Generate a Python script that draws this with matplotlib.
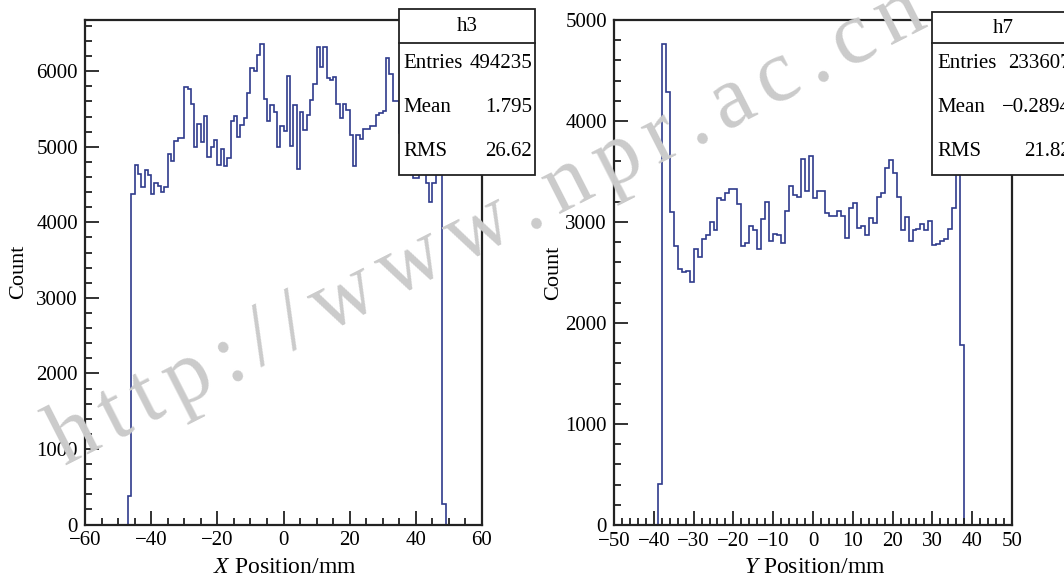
import numpy as np
import matplotlib
matplotlib.use("Agg")
import matplotlib.pyplot as plt
from matplotlib.patches import Rectangle
from matplotlib.lines import Line2D
from matplotlib.ticker import MultipleLocator

plt.rcParams['font.family'] = ['Liberation Serif', 'DejaVu Serif']
plt.rcParams['mathtext.fontset'] = 'custom'
plt.rcParams['mathtext.rm'] = 'Liberation Serif'
plt.rcParams['mathtext.it'] = 'Liberation Serif:italic'

# X histogram (h3): 1 mm bins, first non-empty bin starts at -47
x_first = -47
x_counts = [380,
            4373, 4753, 4642, 4474, 4695, 4629, 4377, 4519, 4483, 4400,
            4466, 4907, 4815, 5079, 5110, 5110, 5786, 5768, 5565, 4991,
            5305, 5057, 5401, 4868, 4991, 5093, 4762, 4970, 4739, 4850,
            5336, 5411, 5128, 5291, 5375, 5711, 6042, 5997, 6219, 6360,
            5636, 5336, 5556, 5460, 5000, 5269, 5203, 5931, 5013, 5547,
            4705, 5460, 5225, 5424, 5623, 5830, 6316, 6056, 6316, 5910,
            5887, 5918, 5565, 5380, 5565, 5490, 5150, 4740, 5150, 5100,
            5230, 5230, 5280, 5280, 5420, 5450, 5480, 6175, 5960, 5600,
            5600, 5180, 5000, 5200, 4900, 4580, 4580, 4900, 4750, 4520,
            4275, 4520, 4800, 4900,
            270]
x_stats = [("Entries", "494235"), ("Mean", "1.795"), ("RMS", "26.62")]

# Y histogram (h7): 1 mm bins, first non-empty bin starts at -39
y_first = -39
y_counts = [406,
            4762, 4290, 3102, 2766, 2532, 2502, 2510, 2403, 2736, 2657,
            2829, 2868, 3003, 2921, 3241, 3221, 3284, 3323, 3330, 3175,
            2762, 2790, 2962, 2924, 2731, 3030, 3201, 2812, 2885, 2870,
            2789, 3105, 3360, 3270, 3243, 3621, 3310, 3653, 3234, 3310,
            3310, 3085, 3059, 3059, 3109, 3059, 2838, 3135, 3185, 2937,
            2960, 2871, 3036, 2987, 3244, 3284, 3538, 3614, 3488, 3251,
            2921, 3052, 2815, 2921, 2928, 2977, 2921, 3010, 2772, 2782,
            2812, 2832, 2928, 3142, 4300,
            1780]
y_stats = [("Entries", "233607"), ("Mean", "\u22120.2894"), ("RMS", "21.82")]

watermark = "http://www.npr.ac.cn"

W, H = 1064, 581
fig = plt.figure(figsize=(W / 100, H / 100), dpi=100)
line_col = '#2f3b8c'


def px(x, y):
    return x / W, 1 - y / H


def full_hist(first, counts, lo, hi):
    edges = np.arange(lo, hi + 1)
    vals = np.zeros(hi - lo)
    i0 = first - lo
    vals[i0:i0 + len(counts)] = counts
    return edges, vals


def style_axes(ax, xmaj, xmin, ymaj, ymin):
    ax.xaxis.set_major_locator(MultipleLocator(xmaj))
    ax.xaxis.set_minor_locator(MultipleLocator(xmin))
    ax.yaxis.set_major_locator(MultipleLocator(ymaj))
    ax.yaxis.set_minor_locator(MultipleLocator(ymin))
    ax.tick_params(which='both', direction='in', top=False, right=False,
                   labelsize=15, width=1.3, color='#222222')
    ax.tick_params(which='major', length=10, pad=5)
    ax.tick_params(which='minor', length=5)
    for s in ax.spines.values():
        s.set_linewidth(1.6)
        s.set_color('#222222')


def stat_box(x0, x1, y0, ydiv, y1, name, rows, xl, xr):
    fx0, fy1 = px(x0, y1)
    fx1, fy0 = px(x1, y0)
    fig.add_artist(Rectangle((fx0, fy1), fx1 - fx0, fy0 - fy1, transform=fig.transFigure,
                             facecolor='white', edgecolor='#222222', lw=1.3, zorder=5))
    a, b = px(x0, ydiv)
    c, d = px(x1, ydiv)
    fig.add_artist(Line2D([a, c], [b, d], transform=fig.transFigure, color='#222222', lw=1.3, zorder=6))
    fig.text(*px((x0 + x1) / 2, (y0 + ydiv) / 2 + 1), name, ha='center', va='center', fontsize=15, zorder=7)
    row_y = [63, 107, 152]
    for (lab, val), yy in zip(rows, row_y):
        fig.text(*px(xl, yy), lab, ha='left', va='center', fontsize=15, zorder=7)
        fig.text(*px(xr, yy), val, ha='right', va='center', fontsize=15, zorder=7)


# left panel
ax1 = fig.add_axes([85 / W, 1 - 524.5 / H, 397 / W, 504.5 / H])
e, v = full_hist(x_first, x_counts, -60, 60)
ax1.stairs(v, e, color=line_col, lw=1.2)
ax1.set_xlim(-60, 60)
ax1.set_ylim(0, max(x_counts) * 1.05)
style_axes(ax1, 20, 5, 1000, 200)
ax1.set_ylabel("Count", fontsize=16)
ax1.yaxis.set_label_coords(-0.1436, 0.5)
ax1.set_xlabel("$X$ Position/mm", fontsize=17)
ax1.xaxis.set_label_coords(0.504, -0.064)

# right panel
ax2 = fig.add_axes([614 / W, 1 - 525 / H, 398 / W, 505 / H])
e, v = full_hist(y_first, y_counts, -50, 50)
ax2.stairs(v, e, color=line_col, lw=1.2)
ax2.set_xlim(-50, 50)
ax2.set_ylim(0, max(y_counts) * 1.05)
style_axes(ax2, 10, 2, 1000, 200)
ax2.set_ylabel("Count", fontsize=16)
ax2.yaxis.set_label_coords(-0.128, 0.5)
ax2.set_xlabel("$Y$ Position/mm", fontsize=17)
ax2.xaxis.set_label_coords(0.505, -0.064)

stat_box(399, 535, 9, 42.5, 175, "h3", x_stats, 403, 532)
stat_box(931.5, 1075, 12, 43, 175, "h7", y_stats, 937, 1071)

# watermark, letter-spaced along a slanted baseline
renderer = fig.canvas.get_renderer()
ang = 27.0
wx, wy = 64.0, 466.0
for ch in watermark:
    t = fig.text(*px(wx, wy), ch, fontsize=64, color='#cbcbcb', rotation=ang,
                 rotation_mode='anchor', ha='left', va='baseline', zorder=10)
    probe = fig.text(0, 0, ch, fontsize=64)
    adv = probe.get_window_extent(renderer).width + 11.5
    probe.remove()
    wx += adv * np.cos(np.deg2rad(ang))
    wy -= adv * np.sin(np.deg2rad(ang))

fig.savefig("out.png", dpi=100)
